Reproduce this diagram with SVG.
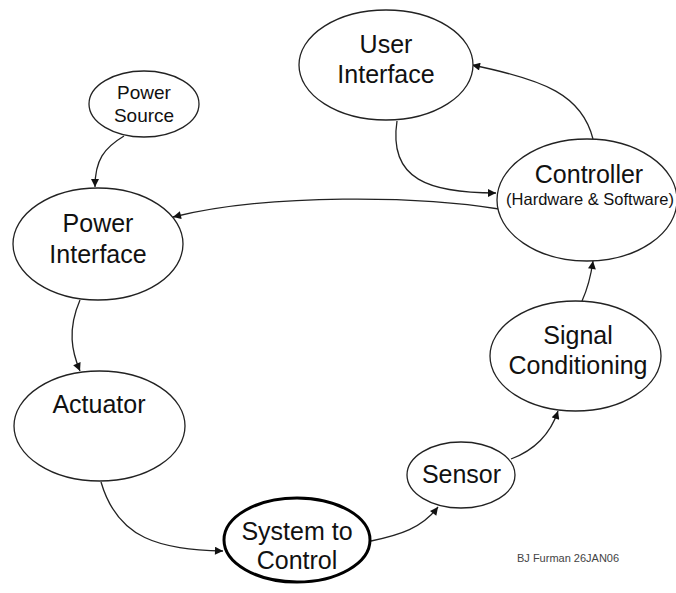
<svg xmlns="http://www.w3.org/2000/svg" width="676" height="593" viewBox="0 0 676 593">
<style>
.n{fill:#fff;stroke:#222;stroke-width:1.3}
.thick{stroke:#000;stroke-width:3}
.t{font-family:"Liberation Sans",Arial,sans-serif;font-size:25px;fill:#111;text-anchor:middle}
.s{font-size:19px}
.h{font-size:16.5px}
.c{fill:none;stroke:#222;stroke-width:1.3;marker-end:url(#a)}
.sig{font-family:"Liberation Sans",Arial,sans-serif;font-size:11px;fill:#444}
</style>
<defs>
<marker id="a" viewBox="0 0 10 10" refX="10" refY="5" markerWidth="9" markerHeight="8" markerUnits="userSpaceOnUse" orient="auto">
<path d="M0,0 L10,5 L0,10 z" fill="#111"/>
</marker>
</defs>
<rect width="676" height="593" fill="#fff"/>
<g id="connectors">
<path class="c" d="M124,136 C104,148 95,160 95,187"/>
<path class="c" d="M499,209 C420,196 270,193 173,217"/>
<path class="c" d="M593,139 C582,95 545,80 472,65"/>
<path class="c" d="M397,121 C388,180 430,193 496,193"/>
<path class="c" d="M80,300 C67,330 72,352 80,371"/>
<path class="c" d="M101,482 C118,540 160,549 223,551"/>
<path class="c" d="M371,541 C400,535 422,528 438,507"/>
<path class="c" d="M511,459 C535,450 550,435 558,411"/>
<path class="c" d="M582,301 C587,290 591,275 593,261"/>
</g>
<g id="power-source">
<ellipse class="n" cx="144" cy="104" rx="55" ry="33"/>
<text class="t s" x="144" y="99">Power</text>
<text class="t s" x="144" y="122">Source</text>
</g>
<g id="user-interface">
<ellipse class="n" cx="386" cy="65" rx="87" ry="55"/>
<text class="t" x="386" y="53">User</text>
<text class="t" x="386" y="83">Interface</text>
</g>
<g id="controller">
<ellipse class="n" cx="587" cy="200" rx="90" ry="61"/>
<text class="t" x="589" y="183">Controller</text>
<text class="t h" x="590" y="205">(Hardware &amp; Software)</text>
</g>
<g id="power-interface">
<ellipse class="n" cx="98" cy="244" rx="85" ry="56"/>
<text class="t" x="98" y="232">Power</text>
<text class="t" x="98" y="263">Interface</text>
</g>
<g id="actuator">
<ellipse class="n" cx="99.5" cy="426" rx="85.5" ry="55"/>
<text class="t" x="99" y="413">Actuator</text>
</g>
<g id="system-to-control">
<ellipse class="n thick" cx="297" cy="540" rx="73" ry="42"/>
<text class="t" x="297" y="540">System to</text>
<text class="t" x="297" y="569">Control</text>
</g>
<g id="sensor">
<ellipse class="n" cx="461" cy="475" rx="54" ry="33"/>
<text class="t" x="461.5" y="483">Sensor</text>
</g>
<g id="signal-conditioning">
<ellipse class="n" cx="575.5" cy="356" rx="85.5" ry="55"/>
<text class="t" x="578" y="344">Signal</text>
<text class="t" x="578" y="374">Conditioning</text>
</g>
<text class="sig" x="517" y="562">BJ Furman 26JAN06</text>
</svg>
